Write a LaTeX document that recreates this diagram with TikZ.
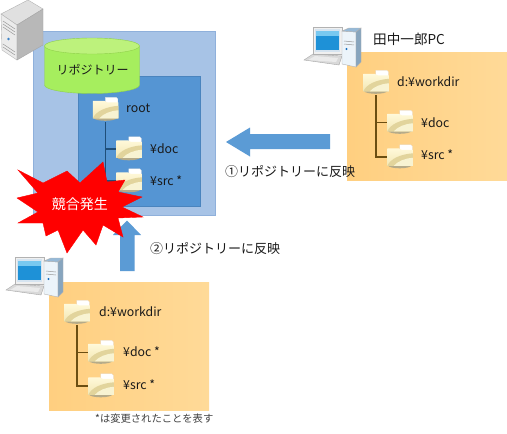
\documentclass[tikz,border=0pt]{standalone}
\usepackage{fontspec}
\setmainfont{Noto Sans CJK JP}
\definecolor{outerblue}{HTML}{A7C3E6}
\definecolor{outerline}{HTML}{8FB0DB}
\definecolor{innerblue}{HTML}{5595D3}
\definecolor{innerline}{HTML}{4A84BE}
\definecolor{arrowblue}{HTML}{5B9BD5}
\definecolor{treeblue}{HTML}{1F4E79}
\definecolor{treebrown}{HTML}{6B4E12}
\definecolor{orangeA}{HTML}{FFCF80}
\definecolor{orangeB}{HTML}{FFDA98}
\definecolor{cylbody}{HTML}{A6EE5E}
\definecolor{cyltop}{HTML}{BDF27C}
\definecolor{cylline}{HTML}{8FD04A}
\definecolor{fshadow}{HTML}{B5AB8A}
\definecolor{fcream}{HTML}{FFF9DA}
\definecolor{fbody}{HTML}{F3E7B4}
\definecolor{fsweep}{HTML}{E2D49C}
\definecolor{flight}{HTML}{F8F3D2}
\tikzset{
  x=1pt,y=-1pt,
  panel/.style={left color=orangeA,right color=orangeB,draw=none},
  folderbox/.style={minimum width=26pt,minimum height=25pt,inner sep=0pt,draw=none},
  lbl/.style={inner sep=0pt,anchor=west,font=\fontsize{12.3}{14}\selectfont,text=black!90},
  reflect/.style={inner sep=0pt,anchor=west,font=\fontsize{13}{15}\selectfont,text=black!90},
  treeB/.style={draw=treeblue,line width=1.1pt},
  treeO/.style={draw=treebrown,line width=1.1pt},
}
\newcommand{\folderat}[2]{%
  \node[folderbox] (#1) at (#2) {};
  \begin{scope}[shift={(#1.north west)}]
    \fill[fshadow] (1,21) -- (25,21) .. controls (23,25) and (3,25) .. (1,21) -- cycle;
    \fill[white,draw=black!12,line width=.3pt] (13,0.5) -- (24,0.5) -- (25.5,2) -- (25.5,7) -- (13,7) -- cycle;
    \shade[top color=fcream,bottom color=fbody] (0.5,4) -- (12,4) -- (15,5.5) -- (26,5.5) -- (26,21.5) -- (0.5,21.5) -- cycle;
    \fill[fsweep] (0.5,21.5) .. controls (4,14) and (14,10) .. (26,9) -- (26,21.5) -- cycle;
    \fill[flight] (7,21.5) .. controls (11,17) and (18,14) .. (26,13.5) -- (26,21.5) -- cycle;
  \end{scope}}
\newcommand{\pcicon}[2]{%
  \begin{scope}[shift={(#1,#2)}]
    \fill[black!15,draw=black!35,line width=.4pt] (304,60) -- (313,54) -- (342,56) -- (339,65) -- cycle;
    \fill[black!8] (308,60) -- (315,56) -- (338,58) -- (336,62) -- cycle;
    \fill[black!6,draw=black!30,line width=.4pt] (313,27) -- (342,27) -- (342,54) -- (313,54) -- cycle;
    \fill[color={rgb,255:red,214;green,228;blue,240}] (315,29) rectangle (340,52);
    \fill[color={rgb,255:red,120;green,200;blue,240}] (316,31) rectangle (339,36);
    \fill[color={rgb,255:red,30;green,145;blue,215}] (316,36) rectangle (339,50);
    \fill[color={rgb,255:red,236;green,244;blue,250},draw=black!30,line width=.4pt] (342,31) -- (356,32) -- (356,67) -- (342,64) -- cycle;
    \fill[color={rgb,255:red,150;green,185;blue,215},draw=black!30,line width=.4pt] (342,31) -- (349,28) -- (361,28) -- (356,32) -- cycle;
    \fill[color={rgb,255:red,135;green,165;blue,190},draw=black!30,line width=.4pt] (356,32) -- (361,28) -- (361,62) -- (356,67) -- cycle;
    \draw[black!40,line width=.5pt] (344,41) -- (354,42) (344,44) -- (354,45);
    \fill[color={rgb,255:red,20;green,110;blue,190}] (346.5,49) circle (1.1);
  \end{scope}}
\begin{document}
\begin{tikzpicture}
\useasboundingbox (0,0) rectangle (507,434);
\fill[white] (0,0) rectangle (507,434);
% repository
\fill[outerblue,draw=outerline,line width=.5pt] (33,31) rectangle (215,215);
\fill[innerblue,draw=innerline,line width=.5pt] (78,76) rectangle (200,206);
\fill[cylbody,draw=cylline,line width=.4pt] (44.5,46) -- (44.5,85) arc[start angle=180,end angle=360,x radius=47.5pt,y radius=8.5pt] -- (139.5,46) -- cycle;
\fill[cyltop,draw=cylline,line width=.4pt] (92,46) ellipse[x radius=47.5pt,y radius=8pt];
\node[inner sep=0pt,font=\fontsize{12}{14}\selectfont,text=black!90] (repo) at (92.5,70) {リポジトリー};
\folderat{root}{105.5,109.5}
\folderat{rdoc}{129,149}
\folderat{rsrc}{129,181}
\node[lbl] (trootl) at (126,108.5) {root};
\node[lbl] (tdocl) at (150,148.5) {¥doc};
\node[lbl] (tsrcl) at (150,181) {¥src *};
\draw[treeB] (root.south) |- (rdoc.west);
\draw[treeB] (root.south) |- (rsrc.west);
% server
\fill[black!12,draw=black!30,line width=.4pt] (1,14) -- (28,0) -- (43,9) -- (17,25) -- cycle;
\fill[black!8,draw=black!30,line width=.4pt] (1,14) -- (17,25) -- (17,60) -- (2,50) -- cycle;
\fill[black!28,draw=black!35,line width=.4pt] (17,25) -- (43,9) -- (43,45) -- (17,60) -- cycle;
\draw[black!40,line width=.5pt] (3,21) -- (15,29) (3,24) -- (15,32) (3,27) -- (15,35) (3,44) -- (15,52) (3,47) -- (15,55);
\fill[color={rgb,255:red,60;green,130;blue,200}] (8.5,39) circle (1.3);
% right PC
\node[inner sep=0pt,anchor=west,font=\fontsize{13.6}{15}\selectfont,text=black!90] (tanaka) at (373,39) {田中一郎PC};
\shade[panel] (347,52) rectangle (507,180);
\pcicon{0}{0}
\folderat{aroot}{376,82.5}
\folderat{adoc}{400,122.5}
\folderat{asrc}{400,157}
\node[lbl] (l1) at (397,82) {d:¥workdir};
\node[lbl] (l2) at (421,122.5) {¥doc};
\node[lbl] (l3) at (421,155) {¥src *};
\draw[treeO] (aroot.south) |- (adoc.west);
\draw[treeO] (aroot.south) |- (asrc.west);
% bottom PC
\shade[panel] (49,282) rectangle (209,410);
\pcicon{-298}{230}
\folderat{broot}{77,312.5}
\folderat{bdoc}{101,352.5}
\folderat{bsrc}{101,386}
\node[lbl] (m1) at (99,312) {d:¥workdir};
\node[lbl] (m2) at (123,352) {¥doc *};
\node[lbl] (m3) at (123,385) {¥src *};
\draw[treeO] (broot.south) |- (bdoc.west);
\draw[treeO] (broot.south) |- (bsrc.west);
% arrows
\fill[arrowblue] (226,142) -- (250,127.5) -- (250,134) -- (330,134) -- (330,149) -- (250,149) -- (250,156.5) -- cycle;
\fill[arrowblue] (127,220.5) -- (141,235) -- (134.5,235) -- (134.5,271) -- (120,271) -- (120,235) -- (113,235) -- cycle;
\node[reflect] (r1) at (225,172) {①リポジトリーに反映};
\node[reflect] (r2) at (150,249) {②リポジトリーに反映};
% conflict burst
\fill[red,draw=red] (18,170) -- (43,183) -- (67,171) -- (80,183) -- (103,162) -- (107,182) -- (125,180) -- (118,192) -- (142,197) -- (122,207) -- (143,217) -- (118,218) -- (123,237) -- (103,225) -- (96,245) -- (83,230) -- (67,253) -- (58,230) -- (46,236) -- (43,223) -- (18,223) -- (38,212) -- (17,198) -- (38,193) -- cycle;
\node[inner sep=0pt,text=white,font=\fontsize{14}{16}\selectfont] (clash) at (80,204) {競合発生};
\node[inner sep=0pt,anchor=west,font=\fontsize{10.3}{12}\selectfont,text=black!75] (note) at (95,419) {*は変更されたことを表す};
\end{tikzpicture}
\end{document}
